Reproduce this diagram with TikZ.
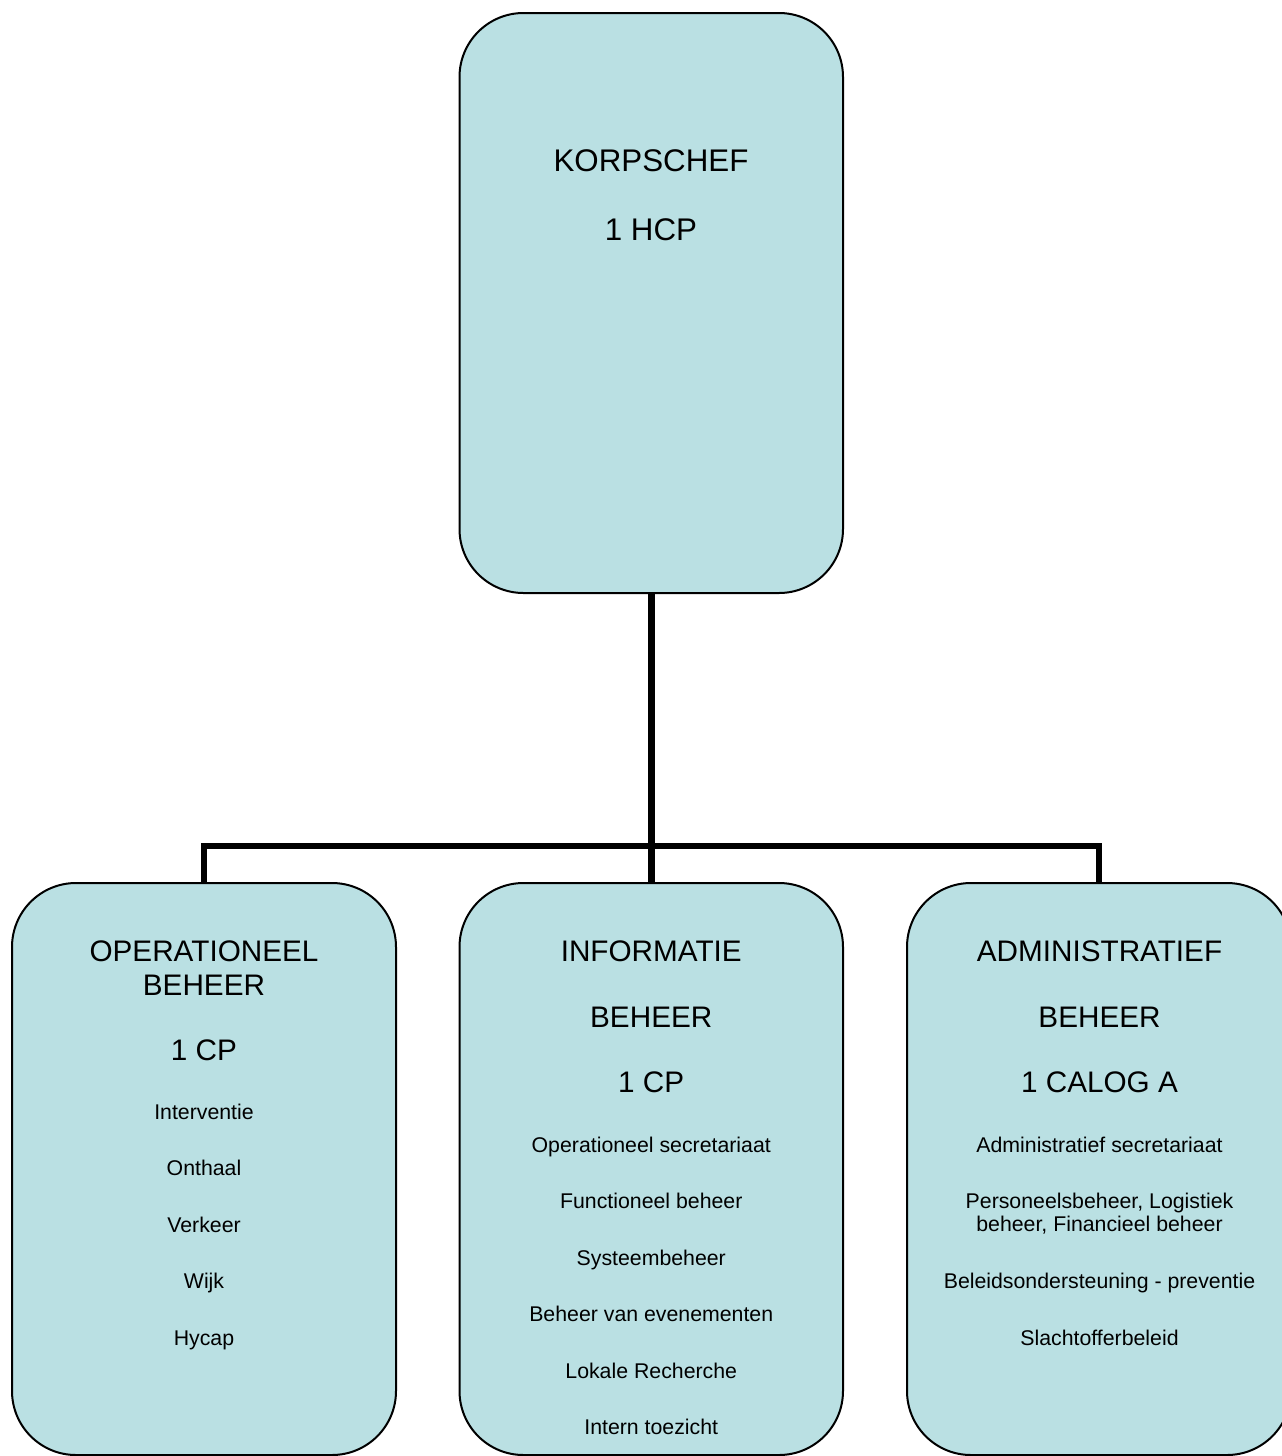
\documentclass[tikz,border=0pt]{standalone}
\usepackage{fontspec}
\setmainfont{Liberation Sans}
\definecolor{boxfill}{RGB}{186,224,227}
\begin{document}
\begin{tikzpicture}[x=1pt,y=-1pt,
  orgbox/.style={draw=black, line width=2pt, fill=boxfill, rounded corners=64pt, inner sep=0pt},
  conn/.style={draw=black, line width=6.5pt},
  big/.style={font=\fontsize{31.3}{34}\selectfont, anchor=base, inner sep=0pt},
  mbig/.style={font=\fontsize{29.7}{33}\selectfont, anchor=base, inner sep=0pt},
  small/.style={font=\fontsize{21.3}{23.5}\selectfont, anchor=base, inner sep=0pt}]
\useasboundingbox (0,0) rectangle (1282,1456);
% boxes
\node[orgbox, minimum width=383.5pt, minimum height=580pt] (top) at (651.25,303) {};
\node[orgbox, minimum width=384pt, minimum height=572pt] (left) at (204,1169) {};
\node[orgbox, minimum width=383.5pt, minimum height=572pt] (mid) at (651.25,1169) {};
\node[orgbox, minimum width=384pt, minimum height=572pt] (right) at (1099,1169) {};
% connectors
\coordinate (bus) at (651.25,846);
\draw[conn] (top.south) -- (bus);
\draw[conn] (left.north) |- (bus) -| (right.north);
\draw[conn] (bus) -- (mid.north);
% top texts
\node[big] (t1) at (651,171.7) {KORPSCHEF};
\node[big] (t2) at (651,240) {1 HCP};
% left texts
\node[mbig] (l1) at (204,961.7) {OPERATIONEEL};
\node[mbig] (l2) at (204,995.7) {BEHEER};
\node[mbig] (l3) at (204,1060) {1 CP};
\node[small] (l4) at (204,1119.3) {Interventie};
\node[small] (l5) at (204,1175.8) {Onthaal};
\node[small] (l6) at (204,1232.3) {Verkeer};
\node[small] (l7) at (204,1288.8) {Wijk};
\node[small] (l8) at (204,1345.3) {Hycap};
% middle texts
\node[mbig] (m1) at (651.25,961.7) {INFORMATIE};
\node[mbig] (m2) at (651.25,1027.3) {BEHEER};
\node[mbig] (m3) at (651.25,1092.7) {1 CP};
\node[small] (m4) at (651.25,1152) {Operationeel secretariaat};
\node[small] (m5) at (651.25,1208.5) {Functioneel beheer};
\node[small] (m6) at (651.25,1265) {Systeembeheer};
\node[small] (m7) at (651.25,1321.5) {Beheer van evenementen};
\node[small] (m8) at (651.25,1378) {Lokale Recherche};
\node[small] (m9) at (651.25,1434.5) {Intern toezicht};
% right texts
\node[mbig] (r1) at (1099.5,961.7) {ADMINISTRATIEF};
\node[mbig] (r2) at (1099.5,1027.3) {BEHEER};
\node[mbig] (r3) at (1099.5,1092.7) {1 CALOG A};
\node[small] (r4) at (1099.5,1152) {Administratief secretariaat};
\node[small] (r5) at (1099.5,1208.3) {Personeelsbeheer, Logistiek};
\node[small] (r6) at (1099.5,1231.7) {beheer, Financieel beheer};
\node[small] (r7) at (1099.5,1288.3) {Beleidsondersteuning - preventie};
\node[small] (r8) at (1099.5,1345) {Slachtofferbeleid};
\end{tikzpicture}
\end{document}
